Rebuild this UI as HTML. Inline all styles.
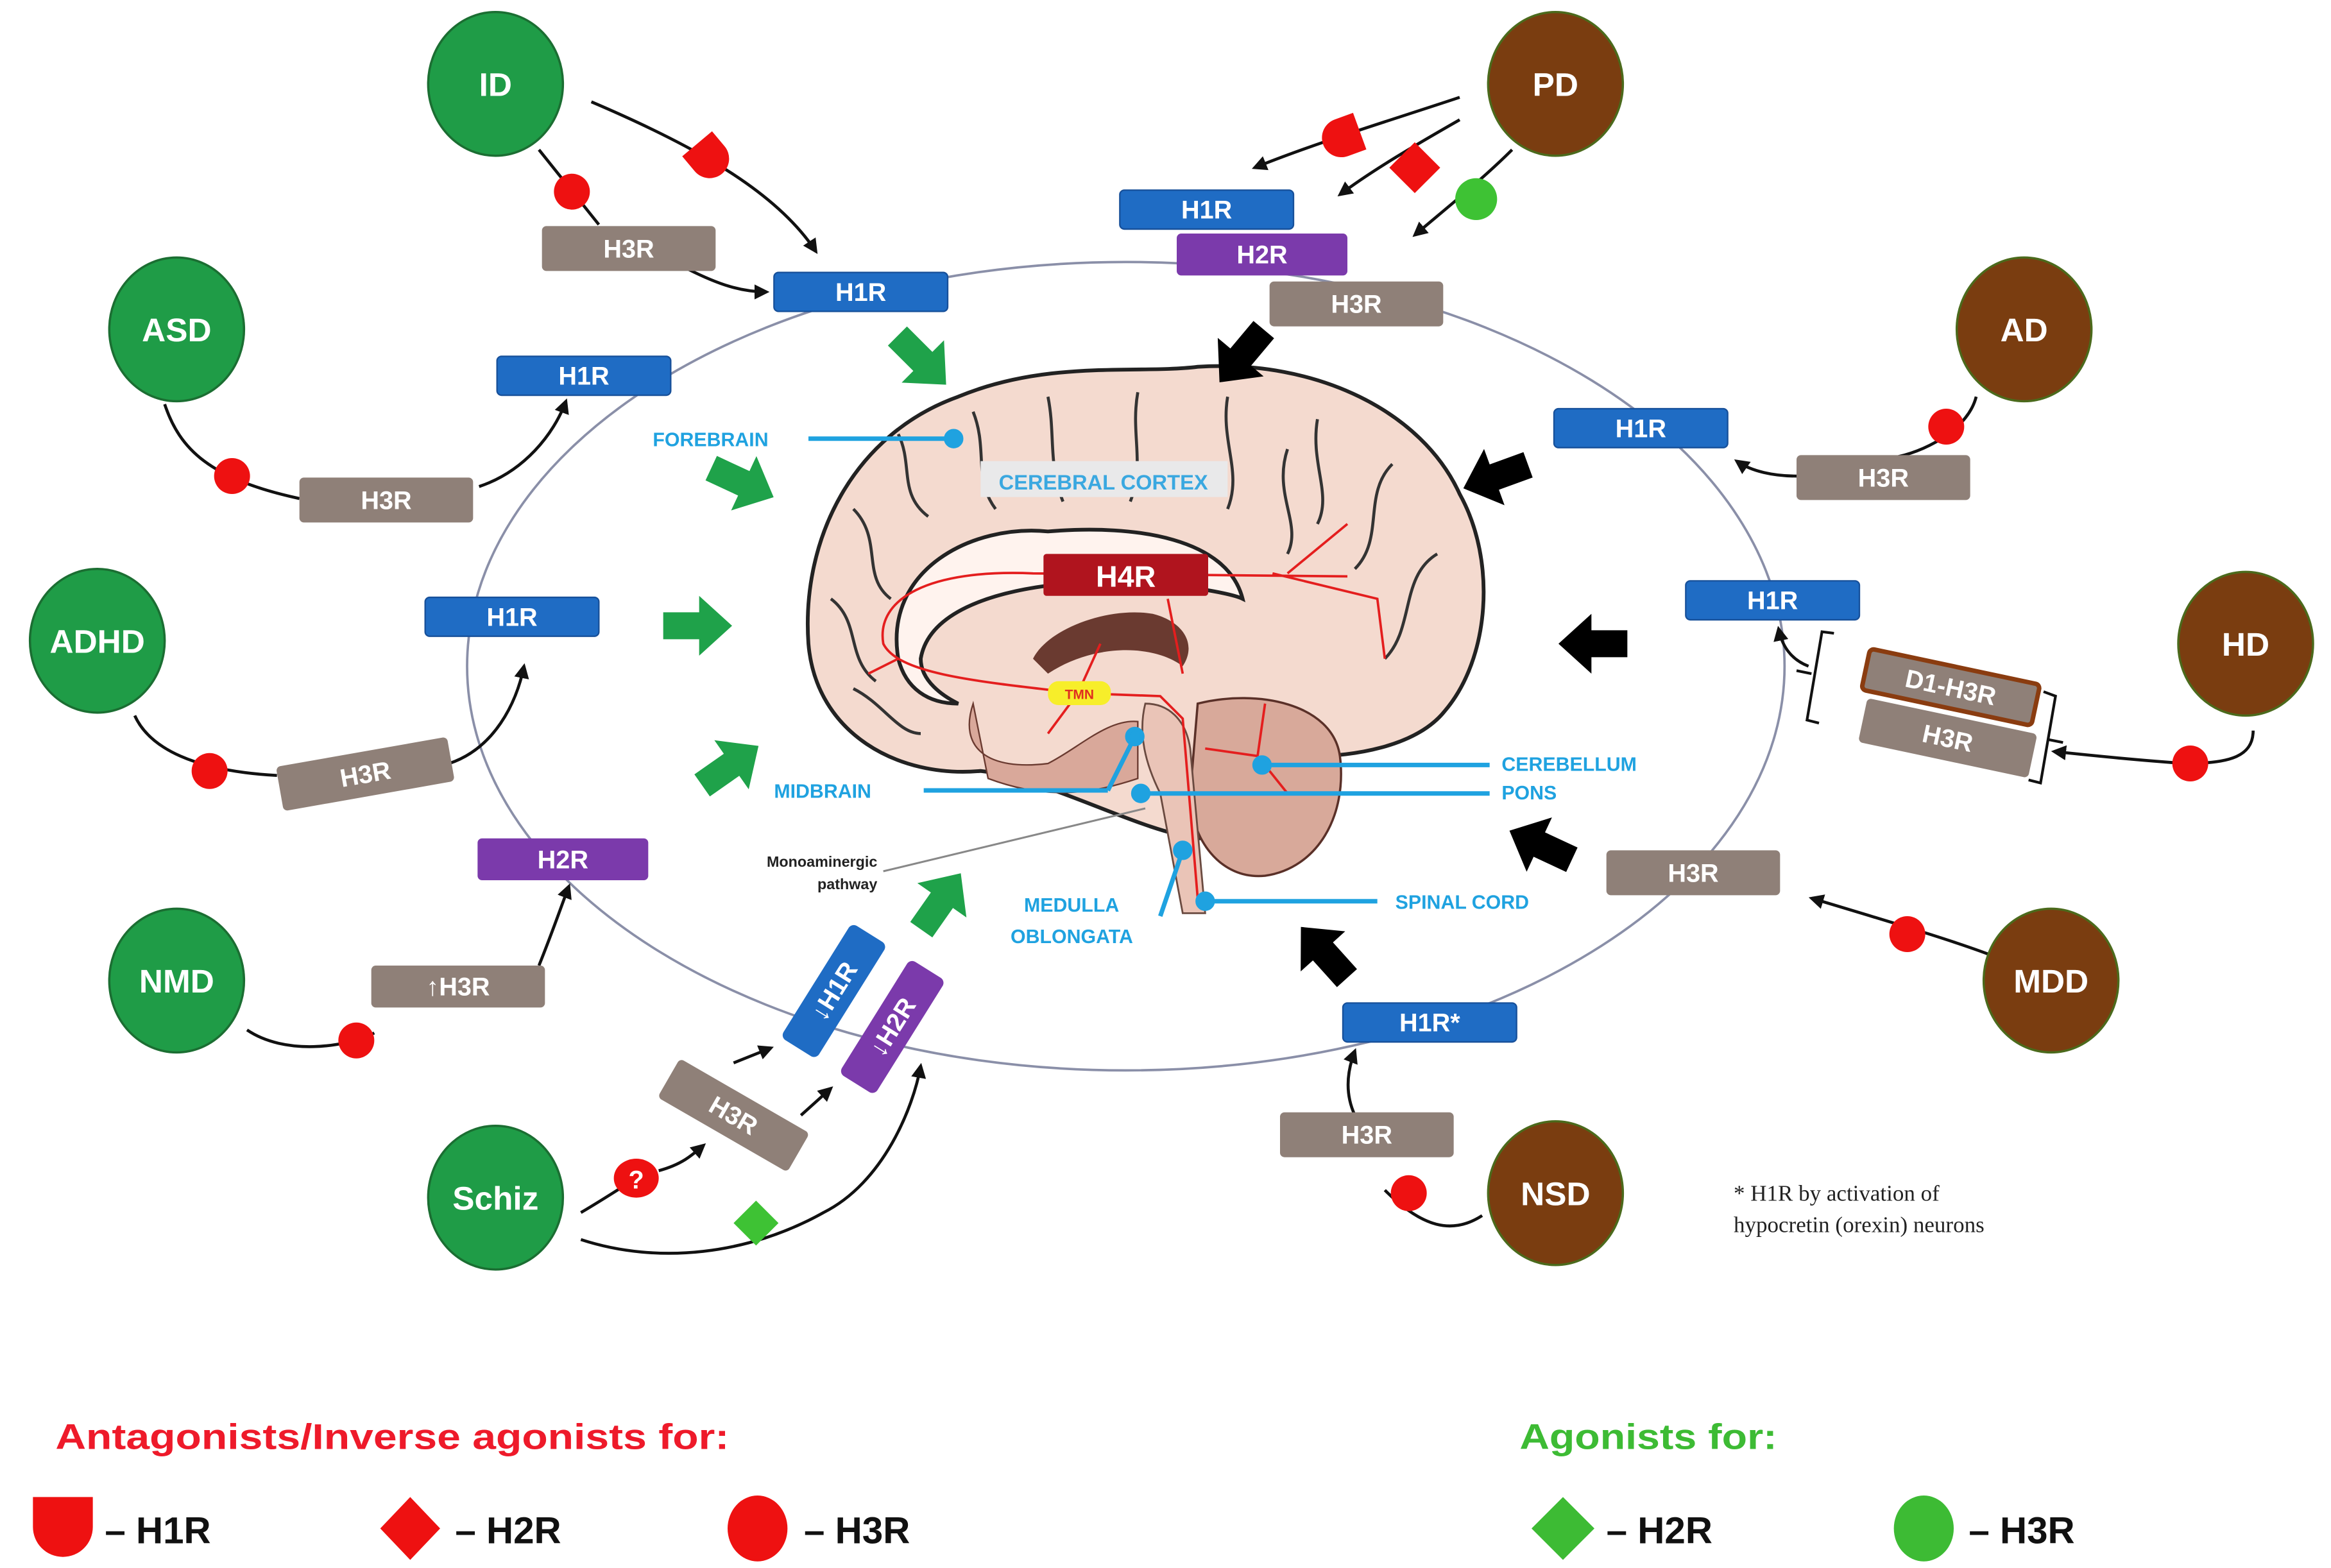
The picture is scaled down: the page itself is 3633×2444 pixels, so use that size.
<!DOCTYPE html>
<html><head><meta charset="utf-8">
<style>
html,body{margin:0;padding:0;background:#fff;}
svg{display:block;}
text{font-family:"Liberation Sans",sans-serif;font-weight:bold;}
</style></head>
<body>
<svg width="3633" height="2444" viewBox="0 0 1557 1047.4" xmlns="http://www.w3.org/2000/svg">
<defs>
<marker id="ah" viewBox="0 0 10 10" refX="8" refY="5" markerWidth="5" markerHeight="5" orient="auto"><path d="M0,0 L10,5 L0,10 Z" fill="#111"/></marker>
<path id="blk" d="M-22,-9 L2,-9 L2,-20 L24,0 L2,20 L2,9 L-22,9 Z"/>
<path id="shield" d="M-13,-13 L13,-13 L13,0 A13,13 0 0 1 -13,0 Z"/>
</defs>

<ellipse cx="752" cy="445" rx="440" ry="270" fill="none" stroke="#8a8fa8" stroke-width="1.6"/>

<g>
<path d="M655,515 C600,520 545,490 540,430 C535,360 570,290 640,265 C700,240 760,250 800,245 C880,240 950,275 975,330 C1000,375 995,440 965,475 C945,500 900,505 880,505 C860,540 830,560 800,560 C760,555 700,520 655,515 Z" fill="#f4dacf" stroke="#222" stroke-width="2.5"/>
<path d="M650,470 C640,500 660,515 700,510 C720,500 740,480 760,482 L760,520 C730,530 700,535 660,520 Z" fill="#d9a89a" stroke="#6a3a30" stroke-width="1"/>
<path d="M800,470 C840,460 890,470 895,505 C900,545 880,580 845,585 C815,588 795,560 795,530 Z" fill="#d8a99a" stroke="#5a3028" stroke-width="1.5"/>
<path d="M765,470 C780,470 792,480 795,500 L805,610 L790,610 L775,530 C765,510 760,490 765,470 Z" fill="#eac4b7" stroke="#6a4a40" stroke-width="1.2"/>
<path d="M600,440 C590,380 650,350 700,355 C760,350 820,360 830,400 C820,395 760,385 710,390 C660,395 620,410 615,440 C615,455 630,465 640,470 C620,470 605,460 600,440 Z" fill="#fff3ee" stroke="#222" stroke-width="2.5"/>
<path d="M690,440 C700,420 740,405 770,410 C790,415 800,430 790,445 C770,430 730,430 700,450 Z" fill="#6a3a30"/>
<g stroke="#333" stroke-width="2" fill="none">
<path d="M600,290 C610,310 600,330 620,345"/><path d="M650,275 C660,300 650,320 665,340"/><path d="M700,265 C705,290 700,310 710,335"/>
<path d="M760,262 C755,290 765,310 755,335"/><path d="M820,265 C815,295 830,315 820,340"/><path d="M880,280 C875,310 890,330 880,350"/>
<path d="M930,310 C910,330 925,360 905,380"/><path d="M960,370 C935,385 945,420 925,440"/><path d="M570,340 C590,360 575,385 595,400"/>
<path d="M555,400 C575,415 565,440 585,455"/><path d="M570,460 C590,470 600,490 615,490"/><path d="M860,300 C850,330 870,350 860,370"/>
</g>
<g stroke="#e41e1e" stroke-width="1.6" fill="none">
<path d="M720,463 C650,455 600,450 590,430 C585,400 620,380 690,383 L900,385"/>
<path d="M720,463 L775,465 L790,480 L800,600"/><path d="M720,463 L735,430"/><path d="M720,463 L700,490"/>
<path d="M850,383 L920,400 L925,440"/><path d="M860,383 L900,350"/><path d="M780,400 L790,450"/>
<path d="M805,500 L840,505 L860,530"/><path d="M840,505 L845,470"/><path d="M600,440 L580,450"/>
</g>
<rect x="700" y="455" width="42" height="16" rx="7" fill="#f7ee2a"/>
<text x="721" y="467" font-size="9" fill="#e03020" text-anchor="middle">TMN</text>
<rect x="697" y="370" width="110" height="28" rx="2" fill="#b0141e"/>
<text x="752" y="392" font-size="20" fill="#fff" text-anchor="middle">H4R</text>
<rect x="655" y="308" width="165" height="24" fill="#e9e9ea"/>
<text x="737" y="327" font-size="14" fill="#3aa8e0" text-anchor="middle">CEREBRAL CORTEX</text>
</g>

<g stroke="#1fa2e0" stroke-width="3" fill="#1fa2e0">
<line x1="540" y1="293" x2="637" y2="293"/><circle cx="637" cy="293" r="5"/>
<line x1="617" y1="528" x2="740" y2="528"/><line x1="740" y1="528" x2="758" y2="492"/><circle cx="758" cy="492" r="5"/>
<line x1="762" y1="530" x2="995" y2="530"/><circle cx="762" cy="530" r="5"/>
<line x1="843" y1="511" x2="995" y2="511"/><circle cx="843" cy="511" r="5"/>
<line x1="775" y1="612" x2="790" y2="568"/><circle cx="790" cy="568" r="5"/>
<line x1="805" y1="602" x2="920" y2="602"/><circle cx="805" cy="602" r="5"/>
</g>
<line x1="590" y1="582" x2="765" y2="540" stroke="#888" stroke-width="1.3"/>
<g font-size="13" fill="#1fa2e0">
<text x="436" y="298">FOREBRAIN</text>
<text x="517" y="533">MIDBRAIN</text>
<text x="1003" y="515">CEREBELLUM</text>
<text x="1003" y="534">PONS</text>
<text x="684" y="609">MEDULLA</text>
<text x="675" y="630">OBLONGATA</text>
<text x="932" y="607">SPINAL CORD</text>
</g>
<text x="586" y="579" font-size="10" fill="#222" text-anchor="end">Monoaminergic</text>
<text x="586" y="594" font-size="10" fill="#222" text-anchor="end">pathway</text>

<g fill="#1fa24a">
<use href="#blk" transform="translate(615,240) rotate(45)"/>
<use href="#blk" transform="translate(495,322) rotate(25)"/>
<use href="#blk" transform="translate(465,418)"/>
<use href="#blk" transform="translate(487,512) rotate(-35)"/>
<use href="#blk" transform="translate(628,603) rotate(-55)"/>
</g>
<g fill="#000">
<use href="#blk" transform="translate(830,237) rotate(130)"/>
<use href="#blk" transform="translate(1000,318) rotate(160)"/>
<use href="#blk" transform="translate(1065,430) rotate(180)"/>
<use href="#blk" transform="translate(1030,565) rotate(205)"/>
<use href="#blk" transform="translate(885,637) rotate(228)"/>
</g>

<g stroke="#111" stroke-width="2" fill="none">
<path d="M395,68 C470,100 520,130 545,168" marker-end="url(#ah)"/>
<path d="M360,100 L400,150"/>
<path d="M460,180 C480,190 495,195 512,195" marker-end="url(#ah)"/>
<path d="M110,270 C120,300 140,320 200,333"/>
<path d="M320,325 C350,315 370,290 378,268" marker-end="url(#ah)"/>
<path d="M90,478 C100,500 130,515 185,518"/>
<path d="M300,510 C330,500 345,470 350,445" marker-end="url(#ah)"/>
<path d="M165,688 C190,705 230,700 250,690"/>
<path d="M360,645 C370,620 375,605 380,592" marker-end="url(#ah)"/>
<path d="M388,810 C405,800 420,790 425,787"/>
<path d="M440,782 C455,778 462,772 470,765" marker-end="url(#ah)"/>
<path d="M535,745 L555,727" marker-end="url(#ah)"/>
<path d="M490,710 L515,700" marker-end="url(#ah)"/>
<path d="M388,828 C440,845 500,838 550,810 C590,790 610,740 615,712" marker-end="url(#ah)"/>
<path d="M975,65 C930,80 880,95 838,112" marker-end="url(#ah)"/>
<path d="M975,80 C940,100 915,115 895,130" marker-end="url(#ah)"/>
<path d="M1010,100 C990,120 965,140 945,157" marker-end="url(#ah)"/>
<path d="M1320,265 C1315,285 1290,300 1268,305"/>
<path d="M1200,318 C1185,318 1170,315 1160,308" marker-end="url(#ah)"/>
<path d="M1208,445 C1195,440 1190,430 1188,420" marker-end="url(#ah)"/>
<path d="M1505,488 C1505,505 1490,510 1460,510 C1430,508 1400,505 1372,502" marker-end="url(#ah)"/>
<path d="M1335,640 C1310,630 1270,618 1210,600" marker-end="url(#ah)"/>
<path d="M990,812 C970,825 950,820 925,795"/>
<path d="M905,745 C898,730 900,715 905,702" marker-end="url(#ah)"/>
</g>
<g stroke="#111" stroke-width="1.8" fill="none">
<path d="M1225,423 L1217,422 L1207,481 L1215,483"/><path d="M1210,450 L1200,448"/>
<path d="M1365,462 L1373,465 L1363,523 L1355,521"/><path d="M1368,494 L1378,496"/>
</g>

<g font-size="22" fill="#fff" text-anchor="middle">
<g fill="#1f9c47" stroke="#1b6e32" stroke-width="1.5">
<ellipse cx="331" cy="56" rx="45" ry="48"/><ellipse cx="118" cy="220" rx="45" ry="48"/>
<ellipse cx="65" cy="428" rx="45" ry="48"/><ellipse cx="118" cy="655" rx="45" ry="48"/>
<ellipse cx="331" cy="800" rx="45" ry="48"/>
</g>
<g fill="#7a3d10" stroke="#4b6a1c" stroke-width="1.5">
<ellipse cx="1039" cy="56" rx="45" ry="48"/><ellipse cx="1352" cy="220" rx="45" ry="48"/>
<ellipse cx="1500" cy="430" rx="45" ry="48"/><ellipse cx="1370" cy="655" rx="45" ry="48"/>
<ellipse cx="1039" cy="797" rx="45" ry="48"/>
</g>
<text x="331" y="64">ID</text><text x="118" y="228">ASD</text><text x="65" y="436">ADHD</text>
<text x="118" y="663">NMD</text><text x="331" y="808">Schiz</text>
<text x="1039" y="64">PD</text><text x="1352" y="228">AD</text><text x="1500" y="438">HD</text>
<text x="1370" y="663">MDD</text><text x="1039" y="805">NSD</text>
</g>

<g font-size="17" fill="#fff" text-anchor="middle">
<g fill="#1f6cc4" stroke="#17509a" stroke-width="1">
<rect x="517" y="182" width="116" height="26" rx="3"/><rect x="332" y="238" width="116" height="26" rx="3"/>
<rect x="284" y="399" width="116" height="26" rx="3"/><rect x="748" y="127" width="116" height="26" rx="3"/>
<rect x="1038" y="273" width="116" height="26" rx="3"/><rect x="1126" y="388" width="116" height="26" rx="3"/>
<rect x="897" y="670" width="116" height="26" rx="3"/>
</g>
<text x="575" y="201">H1R</text><text x="390" y="257">H1R</text><text x="342" y="418">H1R</text>
<text x="806" y="146">H1R</text><text x="1096" y="292">H1R</text><text x="1184" y="407">H1R</text><text x="955" y="689">H1R*</text>
<g fill="#7b3aab"><rect x="786" y="156" width="114" height="28" rx="3"/><rect x="319" y="560" width="114" height="28" rx="3"/></g>
<text x="843" y="176">H2R</text><text x="376" y="580">H2R</text>
<g fill="#8f8078">
<rect x="848" y="188" width="116" height="30" rx="3"/><rect x="362" y="151" width="116" height="30" rx="3"/>
<rect x="200" y="319" width="116" height="30" rx="3"/><rect x="186" y="502" width="116" height="30" rx="3" transform="rotate(-10 244 517)"/>
<rect x="1200" y="304" width="116" height="30" rx="3"/><rect x="1073" y="568" width="116" height="30" rx="3"/>
<rect x="855" y="743" width="116" height="30" rx="3"/><rect x="248" y="645" width="116" height="28" rx="3"/>
<rect x="440" y="730" width="100" height="30" rx="3" transform="rotate(30 490 745)"/>
<rect x="1243" y="478" width="116" height="30" rx="3" transform="rotate(12 1301 493)"/>
</g>
<text x="906" y="209">H3R</text><text x="420" y="172">H3R</text><text x="258" y="340">H3R</text>
<text x="244" y="523" transform="rotate(-10 244 517)">H3R</text>
<text x="1258" y="325">H3R</text><text x="1131" y="589">H3R</text><text x="913" y="764">H3R</text>
<text x="306" y="665">↑H3R</text>
<text x="490" y="751" transform="rotate(30 490 745)">H3R</text>
<text x="1301" y="499" transform="rotate(12 1301 493)">H3R</text>
<rect x="1245" y="445" width="116" height="28" rx="3" fill="#8f8078" stroke="#8a3c10" stroke-width="3" transform="rotate(12 1303 459)"/>
<text x="1303" y="465" transform="rotate(12 1303 459)">D1-H3R</text>
<g transform="rotate(-58 557 662)"><rect x="512" y="648" width="90" height="28" rx="4" fill="#1f6cc4"/><text x="557" y="668">↓H1R</text></g>
<g transform="rotate(-58 596 686)"><rect x="551" y="672" width="90" height="28" rx="4" fill="#7b3aab"/><text x="596" y="692">↓H2R</text></g>
</g>

<g fill="#ee1111">
<use href="#shield" transform="translate(474,106) rotate(-40)"/>
<use href="#shield" transform="translate(896,92) rotate(70)"/>
<circle cx="382" cy="128" r="12"/><circle cx="155" cy="318" r="12"/><circle cx="140" cy="515" r="12"/>
<circle cx="238" cy="695" r="12"/><circle cx="1300" cy="285" r="12"/><circle cx="1463" cy="510" r="12"/>
<circle cx="1274" cy="624" r="12"/><circle cx="941" cy="797" r="12"/>
<path d="M945,95 L962,112 L945,129 L928,112 Z"/>
<ellipse cx="425" cy="787" rx="15" ry="13"/>
</g>
<text x="425" y="794" font-size="17" fill="#fff" text-anchor="middle">?</text>
<circle cx="986" cy="133" r="14" fill="#3ec234"/>
<path d="M505,802 L520,817 L505,832 L490,817 Z" fill="#3ec234"/>

<text x="1158" y="802" font-size="15" fill="#222" style="font-family:'Liberation Serif',serif;font-weight:normal">* H1R by activation  of</text>
<text x="1158" y="823" font-size="15" fill="#222" style="font-family:'Liberation Serif',serif;font-weight:normal">hypocretin  (orexin)  neurons</text>

<text x="37" y="968" font-size="24" fill="#ee1a2a" textLength="450" lengthAdjust="spacingAndGlyphs">Antagonists/Inverse agonists for:</text>
<text x="1015" y="968" font-size="24" fill="#3dbb34" textLength="172" lengthAdjust="spacingAndGlyphs">Agonists for:</text>
<path d="M22,1000 L62,1000 L62,1020 A20,20 0 0 1 22,1020 Z" fill="#ee1111"/>
<path d="M274,1000 L294,1021 L274,1042 L254,1021 Z" fill="#ee1111"/>
<ellipse cx="506" cy="1021" rx="20" ry="22" fill="#ee1111"/>
<path d="M1044,1000 L1065,1021 L1044,1042 L1023,1021 Z" fill="#3dbb34"/>
<ellipse cx="1285" cy="1021" rx="20" ry="22" fill="#3dbb34"/>
<g font-size="25" fill="#111">
<text x="70" y="1031">– H1R</text><text x="304" y="1031">– H2R</text><text x="537" y="1031">– H3R</text>
<text x="1073" y="1031">– H2R</text><text x="1315" y="1031">– H3R</text>
</g>
</svg>
</body></html>
